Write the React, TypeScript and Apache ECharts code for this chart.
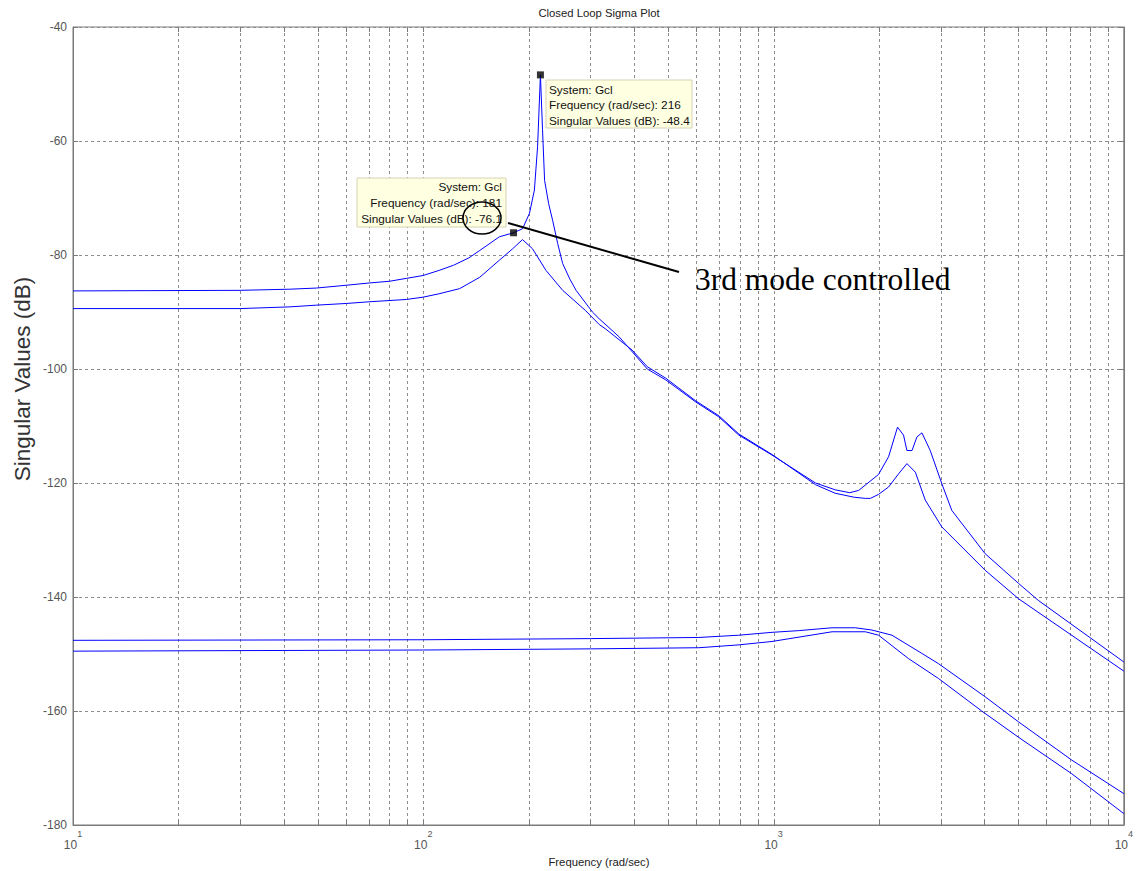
import React, { useEffect, useRef } from 'react';
import * as echarts from 'echarts';

// ---- Data ----
const sv1Freq = [10, 30, 41.6, 49.5, 60.4, 70.4, 80.2, 89.5, 99.8, 111, 122, 135, 145, 165, 181, 192, 201, 207.6, 212, 216, 219, 222, 228, 234, 242, 250, 262, 273, 304, 318, 363, 436, 492, 600, 698, 796, 990, 1318, 1500, 1650, 1750, 1994, 2130, 2259, 2350, 2403, 2485, 2567, 2652, 2801, 3022, 3227, 4018, 5003, 5700, 10000];
const sv1Db = [-86.3, -86.2, -86.0, -85.8, -85.3, -84.9, -84.6, -84.1, -83.6, -82.7, -81.8, -80.5, -79.2, -76.8, -76.1, -75.4, -72.7, -68.6, -61.0, -48.4, -58.0, -66.9, -71.0, -73.9, -78.0, -81.5, -84.2, -86.2, -90.0, -91.2, -94.4, -100.0, -101.9, -105.8, -108.4, -111.6, -115.1, -120.0, -121.2, -121.7, -121.3, -118.5, -115.4, -110.2, -111.6, -114.3, -114.3, -111.9, -111.2, -114.3, -120.1, -124.8, -132.4, -137.6, -140.6, -151.4];

const sv2Freq = [10, 30, 41.6, 49.5, 60.4, 70.4, 89.5, 99.8, 111, 127, 145, 165, 180, 192, 205, 224, 250, 290, 318, 332, 395, 436, 492, 600, 698, 796, 990, 1318, 1500, 1700, 1829, 1890, 1994, 2130, 2274, 2403, 2540, 2711, 3022, 4018, 5003, 10000];
const sv2Db = [-89.4, -89.4, -89.1, -88.8, -88.5, -88.2, -87.8, -87.4, -86.8, -85.9, -83.9, -80.9, -78.9, -77.3, -78.9, -82.7, -86.2, -89.7, -92.2, -93.0, -96.7, -99.6, -101.6, -105.6, -108.2, -111.4, -115.0, -120.3, -121.8, -122.5, -122.7, -122.7, -122.0, -120.7, -118.4, -116.6, -118.1, -123.0, -127.7, -135.3, -140.3, -153.0];

const sv3Freq = [10, 100, 300, 612, 796, 990, 1180, 1469, 1712, 1910, 2178, 2652, 2958, 4018, 5003, 7098, 10000];
const sv3Db = [-147.6, -147.5, -147.3, -147.1, -146.7, -146.2, -145.9, -145.4, -145.4, -145.8, -146.7, -149.9, -151.7, -157.5, -161.9, -168.6, -174.5];

const sv4Freq = [10, 100, 300, 612, 796, 990, 1469, 1829, 1994, 2427, 2958, 3929, 5003, 7098, 10000];
const sv4Db = [-149.5, -149.3, -149.1, -148.9, -148.4, -147.8, -146.1, -146.1, -146.7, -150.8, -154.3, -160.0, -164.6, -171.0, -178.0];

const tipFreq = [216, 181];
const tipDb = [-48.4, -76.1];

const yTicks = [-180, -160, -140, -120, -100, -80, -60, -40];
const decades = [10, 100, 1000, 10000];

const FONT = 'Liberation Sans, Arial, sans-serif';

export default function App() {
  const ref = useRef<HTMLDivElement>(null);

  useEffect(() => {
    if (!ref.current) return;
    const chart = echarts.init(ref.current, null, { renderer: 'svg' });

    const gridFreqs: number[] = [];
    for (let d = 0; d < decades.length - 1; d++) {
      for (let k = 2; k <= 10; k++) {
        const f = decades[d] * k;
        if (f < decades[decades.length - 1]) gridFreqs.push(f);
      }
    }
    const yMin = yTicks[0];
    const yMax = yTicks[yTicks.length - 1];

    const lineSeries = (fr: number[], db: number[]) => ({
      type: 'line',
      data: fr.map((f, i) => [f, db[i]]),
      showSymbol: false,
      smooth: false,
      silent: true,
      lineStyle: { color: '#0000ff', width: 1 },
      z: 5,
    });

    const option: any = {
      animation: false,
      backgroundColor: '#ffffff',
      grid: {
        left: 73,
        right: 10,
        top: 27,
        bottom: 46,
        show: true,
        borderColor: '#7a7a7a',
        borderWidth: 1,
        backgroundColor: '#ffffff',
      },
      xAxis: {
        type: 'log',
        logBase: 10,
        min: decades[0],
        max: decades[decades.length - 1],
        axisLine: { show: true, lineStyle: { color: '#7a7a7a' } },
        axisTick: { show: false },
        splitLine: { show: false },
        axisLabel: {
          show: true,
          showMinLabel: true,
          showMaxLabel: true,
          margin: 4,
          formatter: (v: number) => `{b|10}{s|${Math.round(Math.log10(v))}}`,
          rich: {
            b: { fontSize: 12, color: '#555555', fontFamily: FONT, lineHeight: 22, verticalAlign: 'bottom' },
            s: { fontSize: 9, color: '#555555', fontFamily: FONT, lineHeight: 22, verticalAlign: 'top' },
          },
        },
      },
      yAxis: [
        {
          type: 'value',
          min: yMin,
          max: yMax,
          interval: 20,
          axisLine: { show: true, lineStyle: { color: '#7a7a7a' } },
          axisTick: { show: true, inside: true, length: 5, lineStyle: { color: '#7a7a7a' } },
          splitLine: { show: true, lineStyle: { color: '#8c8c8c', type: [3, 3], width: 1 } },
          axisLabel: { color: '#555555', fontSize: 12, fontFamily: FONT, margin: 6 },
        },
        {
          type: 'value',
          position: 'right',
          min: yMin,
          max: yMax,
          interval: 20,
          axisLine: { show: true, lineStyle: { color: '#7a7a7a' } },
          axisTick: { show: true, inside: true, length: 5, lineStyle: { color: '#7a7a7a' } },
          splitLine: { show: false },
          axisLabel: { show: false },
        },
      ],
      series: [
        {
          type: 'custom',
          silent: true,
          z: 1,
          data: gridFreqs.map((f) => [f, yMin]),
          renderItem: (params: any, api: any) => {
            const f = api.value(0);
            const top = api.coord([f, yMax]);
            const bot = api.coord([f, yMin]);
            const x = Math.round(top[0]) + 0.5;
            return {
              type: 'group',
              children: [
                { type: 'line', shape: { x1: x, y1: top[1], x2: x, y2: bot[1] }, style: { stroke: '#8c8c8c', lineWidth: 1, lineDash: [3, 3] } },
                { type: 'line', shape: { x1: x, y1: bot[1], x2: x, y2: bot[1] - 5 }, style: { stroke: '#7a7a7a', lineWidth: 1 } },
                { type: 'line', shape: { x1: x, y1: top[1], x2: x, y2: top[1] + 5 }, style: { stroke: '#7a7a7a', lineWidth: 1 } },
              ],
            };
          },
        },
        lineSeries(sv1Freq, sv1Db),
        lineSeries(sv2Freq, sv2Db),
        lineSeries(sv3Freq, sv3Db),
        lineSeries(sv4Freq, sv4Db),
        {
          type: 'scatter',
          silent: true,
          symbol: 'rect',
          symbolSize: 7,
          itemStyle: { color: '#000000' },
          data: tipFreq.map((f, i) => [f, tipDb[i]]),
          z: 8,
        },
      ],
      graphic: [
        {
          type: 'text',
          x: 599,
          y: 13,
          style: { text: 'Closed Loop Sigma Plot', font: `11.3px ${FONT}`, fill: '#222222', align: 'center', verticalAlign: 'middle' },
        },
        {
          type: 'text',
          x: 599,
          y: 862,
          style: { text: 'Frequency (rad/sec)', font: `11.3px ${FONT}`, fill: '#222222', align: 'center', verticalAlign: 'middle' },
        },
        {
          type: 'text',
          x: 22,
          y: 379,
          rotation: Math.PI / 2,
          style: { text: 'Singular Values (dB)', font: `22.5px ${FONT}`, fill: '#333333', align: 'center', verticalAlign: 'middle' },
        },
        // data tip 1
        {
          type: 'rect',
          z: 20,
          shape: { x: 546, y: 80, width: 146, height: 48 },
          style: { fill: '#ffffe1', stroke: '#d6d3b4', lineWidth: 1 },
        },
        {
          type: 'text',
          z: 21,
          x: 549,
          y: 82,
          style: {
            text: `System: Gcl\nFrequency (rad/sec): ${tipFreq[0]}\nSingular Values (dB): ${tipDb[0]}`,
            font: `11.8px ${FONT}`,
            lineHeight: 15.5,
            fill: '#111111',
            align: 'left',
            verticalAlign: 'top',
          },
        },
        // data tip 2
        {
          type: 'rect',
          z: 20,
          shape: { x: 357, y: 178, width: 149, height: 49 },
          style: { fill: '#ffffe1', stroke: '#d6d3b4', lineWidth: 1 },
        },
        {
          type: 'text',
          z: 21,
          x: 502,
          y: 179,
          style: {
            text: `System: Gcl\nFrequency (rad/sec): ${tipFreq[1]}\nSingular Values (dB): ${tipDb[1]}`,
            font: `11.8px ${FONT}`,
            lineHeight: 15.8,
            fill: '#111111',
            align: 'right',
            verticalAlign: 'top',
          },
        },
        {
          type: 'ellipse',
          z: 22,
          shape: { cx: 482, cy: 218, rx: 19, ry: 16 },
          style: { fill: 'none', stroke: '#000000', lineWidth: 1.5 },
        },
        {
          type: 'line',
          z: 22,
          shape: { x1: 508, y1: 223, x2: 679, y2: 272 },
          style: { stroke: '#000000', lineWidth: 2 },
        },
        {
          type: 'text',
          z: 22,
          x: 695,
          y: 279,
          style: { text: '3rd mode controlled', font: `31.5px Liberation Serif, Times New Roman, serif`, fill: '#000000', align: 'left', verticalAlign: 'middle' },
        },
      ],
    };

    chart.setOption(option);
    return () => chart.dispose();
  }, []);

  return (
    <div
      ref={ref}
      style={{ position: 'fixed', left: 0, top: 0, width: 1136, height: 871, background: '#ffffff' }}
    />
  );
}
